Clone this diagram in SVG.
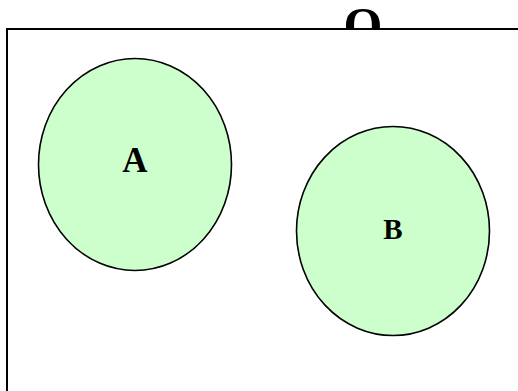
<svg xmlns="http://www.w3.org/2000/svg" width="518" height="391" viewBox="0 0 518 391">
<style>
.lbl{font-family:"Liberation Serif","Times New Roman",serif;font-weight:bold;fill:#000;text-anchor:middle}
.node{fill:#CCFFCC;stroke:#000;stroke-width:1.6}
</style>
<rect width="518" height="391" fill="#fff"/>
<text class="lbl" x="363" y="42" font-size="50">O</text>
<g id="frame">
<rect x="7" y="29" width="520" height="370" fill="#fff" stroke="#000" stroke-width="2"/>
</g>
<g id="connectors"></g>
<g id="nodeA">
<ellipse class="node" cx="135" cy="164.5" rx="96.5" ry="106"/>
<text class="lbl" x="135" y="172" font-size="35">A</text>
</g>
<g id="nodeB">
<ellipse class="node" cx="393" cy="231" rx="96.5" ry="104.5"/>
<text class="lbl" x="393" y="239" font-size="29">B</text>
</g>
</svg>
